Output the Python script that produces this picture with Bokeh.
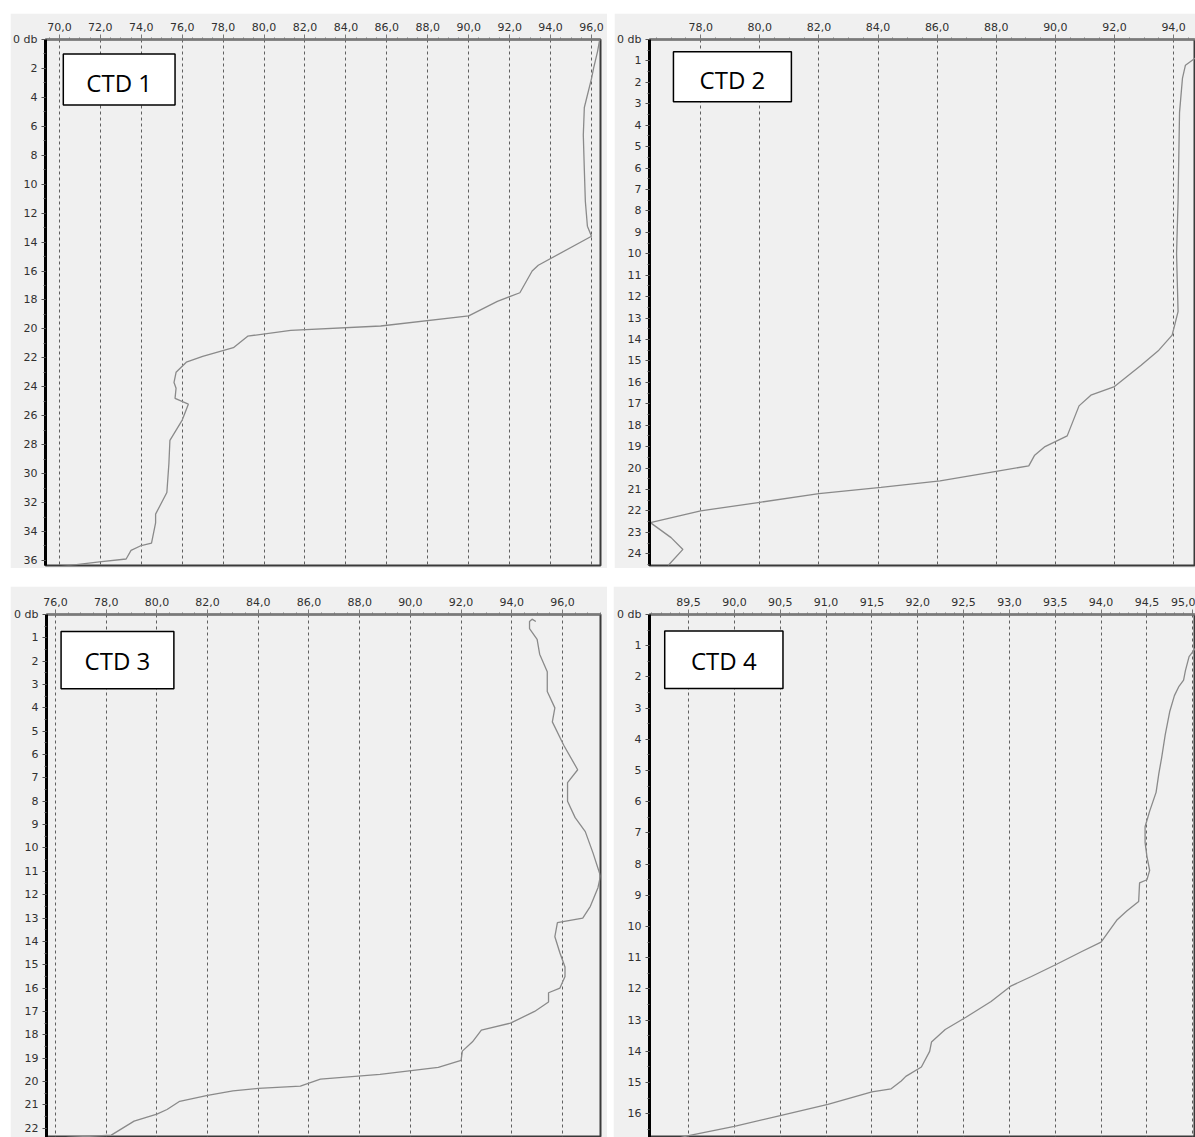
from bokeh.plotting import figure
from bokeh.models import Range1d, FixedTicker, BoxAnnotation, Label
from bokeh.layouts import row, column
from bokeh.embed import file_html
from bokeh.resources import INLINE

# ---------------- data ----------------
ctd1_value = [96.4, 96.3, 96.1, 96.0, 95.65, 95.6, 95.65, 95.7, 95.8, 96.0, 93.4, 93.1, 92.7, 92.5,
              91.4, 90.0, 85.7, 81.3, 79.2, 78.5, 77.0, 76.2, 75.7, 75.6, 75.7, 75.65, 76.3, 76.0,
              75.4, 75.35, 75.25, 74.7, 74.7, 74.5, 73.95, 73.5, 73.26, 71.95, 69.6]
ctd1_depth = [0.0, 0.8, 2.0, 2.7, 4.7, 6.6, 9.0, 11.2, 12.9, 13.6, 15.6, 16.0, 17.0, 17.5,
              18.1, 19.1, 19.8, 20.1, 20.5, 21.3, 21.9, 22.3, 23.0, 23.7, 24.1, 24.8, 25.2, 26.3,
              27.7, 29.3, 31.3, 32.8, 33.4, 34.8, 35.0, 35.3, 35.9, 36.1, 36.5]

ctd2_value = [94.8, 94.4, 94.3, 94.2, 94.15, 94.1, 94.15, 93.95, 93.5, 92.9, 92.0, 91.2, 90.8,
              90.6, 90.4, 89.65, 89.3, 89.1, 87.8, 86.1, 84.1, 82.0, 80.0, 78.0, 76.3, 77.0,
              77.4, 76.9]
ctd2_depth = [0.8, 1.2, 1.8, 3.4, 7.5, 10.0, 12.7, 13.8, 14.5, 15.2, 16.2, 16.6, 17.1,
              17.8, 18.5, 19.0, 19.4, 19.9, 20.2, 20.6, 20.9, 21.2, 21.6, 22.0, 22.55, 23.25,
              23.8, 24.55]

ctd3_value = [94.95, 94.8, 94.7, 94.7, 95.0, 95.1, 95.4, 95.4, 95.7, 95.6, 96.05, 96.6, 96.2,
              96.2, 96.5, 96.9, 97.2, 97.5, 97.4, 97.1, 96.8, 95.8, 95.7, 95.9, 96.1, 96.1,
              95.9, 95.45, 95.45, 94.9, 93.95, 92.8, 92.45, 92.05, 92.0, 91.1, 88.8, 86.45,
              85.66, 84.0, 83.0, 82.0, 80.9, 80.4, 80.0, 79.1, 78.2, 76.5, 75.8]
ctd3_depth = [0.3, 0.2, 0.3, 0.6, 1.07, 1.7, 2.45, 3.3, 4.0, 4.6, 5.6, 6.65, 7.2,
              8.0, 8.7, 9.3, 10.2, 11.2, 11.7, 12.5, 13.0, 13.2, 13.8, 14.5, 15.1, 15.5,
              16.0, 16.2, 16.6, 17.0, 17.5, 17.8, 18.3, 18.7, 19.1, 19.4, 19.7, 19.9,
              20.2, 20.3, 20.4, 20.6, 20.85, 21.2, 21.4, 21.7, 22.3, 22.4, 22.45]

ctd4_value = [95.08, 95.05, 94.96, 94.92, 94.9, 94.85, 94.8, 94.75, 94.7, 94.66, 94.63, 94.6,
              94.53, 94.48, 94.48, 94.5, 94.53, 94.5, 94.42, 94.41, 94.28, 94.17, 94.0, 93.79,
              93.52, 93.24, 93.02, 92.8, 92.53, 92.3, 92.15, 92.13, 92.04, 91.87, 91.82, 91.71,
              91.5, 91.02, 90.5, 90.0, 89.5, 89.36]
ctd4_depth = [0.85, 1.0, 1.35, 1.8, 2.1, 2.3, 2.6, 3.1, 3.85, 4.6, 5.1, 5.7,
              6.3, 6.8, 7.3, 7.75, 8.2, 8.5, 8.6, 9.2, 9.5, 9.8, 10.5, 10.8,
              11.2, 11.6, 11.9, 12.4, 12.9, 13.3, 13.7, 14.0, 14.5, 14.8, 14.95, 15.2,
              15.3, 15.7, 16.06, 16.4, 16.7, 16.8]

titles = ["CTD 1", "CTD 2", "CTD 3", "CTD 4"]

x_ticks_1 = [70, 72, 74, 76, 78, 80, 82, 84, 86, 88, 90, 92, 94, 96]
x_ticks_2 = [78, 80, 82, 84, 86, 88, 90, 92, 94]
x_ticks_3 = [76, 78, 80, 82, 84, 86, 88, 90, 92, 94, 96]
x_ticks_4 = [89.5, 90.0, 90.5, 91.0, 91.5, 92.0, 92.5, 93.0, 93.5, 94.0, 94.5, 95.0]
y_ticks_1 = list(range(0, 37, 2))
y_ticks_2 = list(range(0, 25))
y_ticks_3 = list(range(0, 23))
y_ticks_4 = list(range(0, 17))

# ---------------- styling helpers ----------------
BG = "#f0f0f0"
LINE = "#8a8a8a"
LABEL_FONT = "DejaVu Sans"


def fmt(v, dec):
    return (f"{v:.{dec}f}").replace(".", ",")


def make_panel(xv, yv, xr, yr, xt, xminor, yt, yminor, geom, box, text_y, title):
    w, h, ml, mt, mr, mb = geom
    p = figure(width=w, height=h, x_range=Range1d(*xr), y_range=Range1d(*yr),
               x_axis_location="above", output_backend="svg", toolbar_location=None,
               min_border_left=ml, min_border_top=mt, min_border_right=mr, min_border_bottom=mb)
    p.background_fill_color = BG
    p.border_fill_color = BG
    p.outline_line_color = "#3a3a3a"
    p.outline_line_width = 2

    xa = p.xaxis[0]
    xa.ticker = FixedTicker(ticks=xt, minor_ticks=xminor)
    xa.major_label_overrides = {t: fmt(t, 1) for t in xt}
    xa.axis_line_color = "#7a7a7a"
    xa.axis_line_width = 2
    xa.major_tick_line_color = "#7a7a7a"
    xa.minor_tick_line_color = "#7a7a7a"
    xa.major_tick_out = 5
    xa.major_tick_in = 0
    xa.minor_tick_out = 2
    xa.minor_tick_in = 0
    xa.major_label_standoff = 4
    xa.major_label_text_font = LABEL_FONT
    xa.major_label_text_font_size = "11px"
    xa.major_label_text_color = "#303030"

    ya = p.yaxis[0]
    ya.ticker = FixedTicker(ticks=yt, minor_ticks=yminor)
    ov = {t: str(t) for t in yt}
    ov[0] = "0 db"
    ya.major_label_overrides = ov
    ya.axis_line_color = "black"
    ya.axis_line_width = 3
    ya.major_tick_line_color = "#555555"
    ya.minor_tick_line_color = "#555555"
    ya.major_tick_out = 4
    ya.major_tick_in = 0
    ya.minor_tick_out = 2
    ya.minor_tick_in = 0
    ya.major_label_standoff = 4
    ya.major_label_text_font = LABEL_FONT
    ya.major_label_text_font_size = "11px"
    ya.major_label_text_color = "#303030"

    p.xgrid.ticker = FixedTicker(ticks=xt)
    p.xgrid.grid_line_color = "#606060"
    p.xgrid.grid_line_dash = "3 3"
    p.xgrid.grid_line_width = 1
    p.ygrid.visible = False

    p.line(xv, yv, line_color=LINE, line_width=1.3)

    l, r, b, t = box
    p.add_layout(BoxAnnotation(left=l, right=r, bottom=b, top=t, fill_color="white", fill_alpha=1.0,
                               line_color="black", line_width=1.5, line_alpha=1.0))
    p.add_layout(Label(x=(l + r) / 2, y=text_y, text=title, text_align="center",
                       text_baseline="middle", text_font="Open Sans", text_font_size="24px",
                       text_color="black"))
    return p


minor_1 = [v / 2 for v in range(138, 194)]
minor_2 = [v / 2 for v in range(152, 190)]
minor_3 = [v / 2 for v in range(151, 196)]
minor_4 = [v / 10 for v in range(890, 951)]

p1 = make_panel(ctd1_value, ctd1_depth, (69.32, 96.44), (36.35, 0.0), x_ticks_1, minor_1,
                y_ticks_1, list(range(0, 37)), (597, 555, 33, 26, 7, 2),
                (70.19, 75.65, 4.53, 1.01), 2.98, titles[0])
p2 = make_panel(ctd2_value, ctd2_depth, (76.27, 94.74), (24.55, 0.0), x_ticks_2, minor_2,
                y_ticks_2, [v / 2 for v in range(0, 50)], (581, 555, 35, 26, 0, 3),
                (77.08, 81.07, 2.9, 0.57), 1.89, titles[1])
p3 = make_panel(ctd3_value, ctd3_depth, (75.645, 97.5), (22.4, 0.0), x_ticks_3, minor_3,
                y_ticks_3, [v / 2 for v in range(0, 46)], (597, 551, 36, 28, 7, 0),
                (76.22, 80.67, 3.18, 0.73), 1.97, titles[2])
p4 = make_panel(ctd4_value, ctd4_depth, (89.074, 95.03), (16.76, 0.0), x_ticks_4, minor_4,
                y_ticks_4, [v / 2 for v in range(0, 34)], (582, 551, 36, 28, 0, 0),
                (89.24, 90.53, 2.37, 0.53), 1.46, titles[3])

p1.margin = (13, 0, 0, 10)
p2.margin = (13, 0, 0, 7)
p3.margin = (18, 0, 0, 10)
p4.margin = (18, 0, 0, 6)

layout = column(row(p1, p2, spacing=0), row(p3, p4, spacing=0), spacing=0)

open("out.html", "w").write(file_html(layout, INLINE))
